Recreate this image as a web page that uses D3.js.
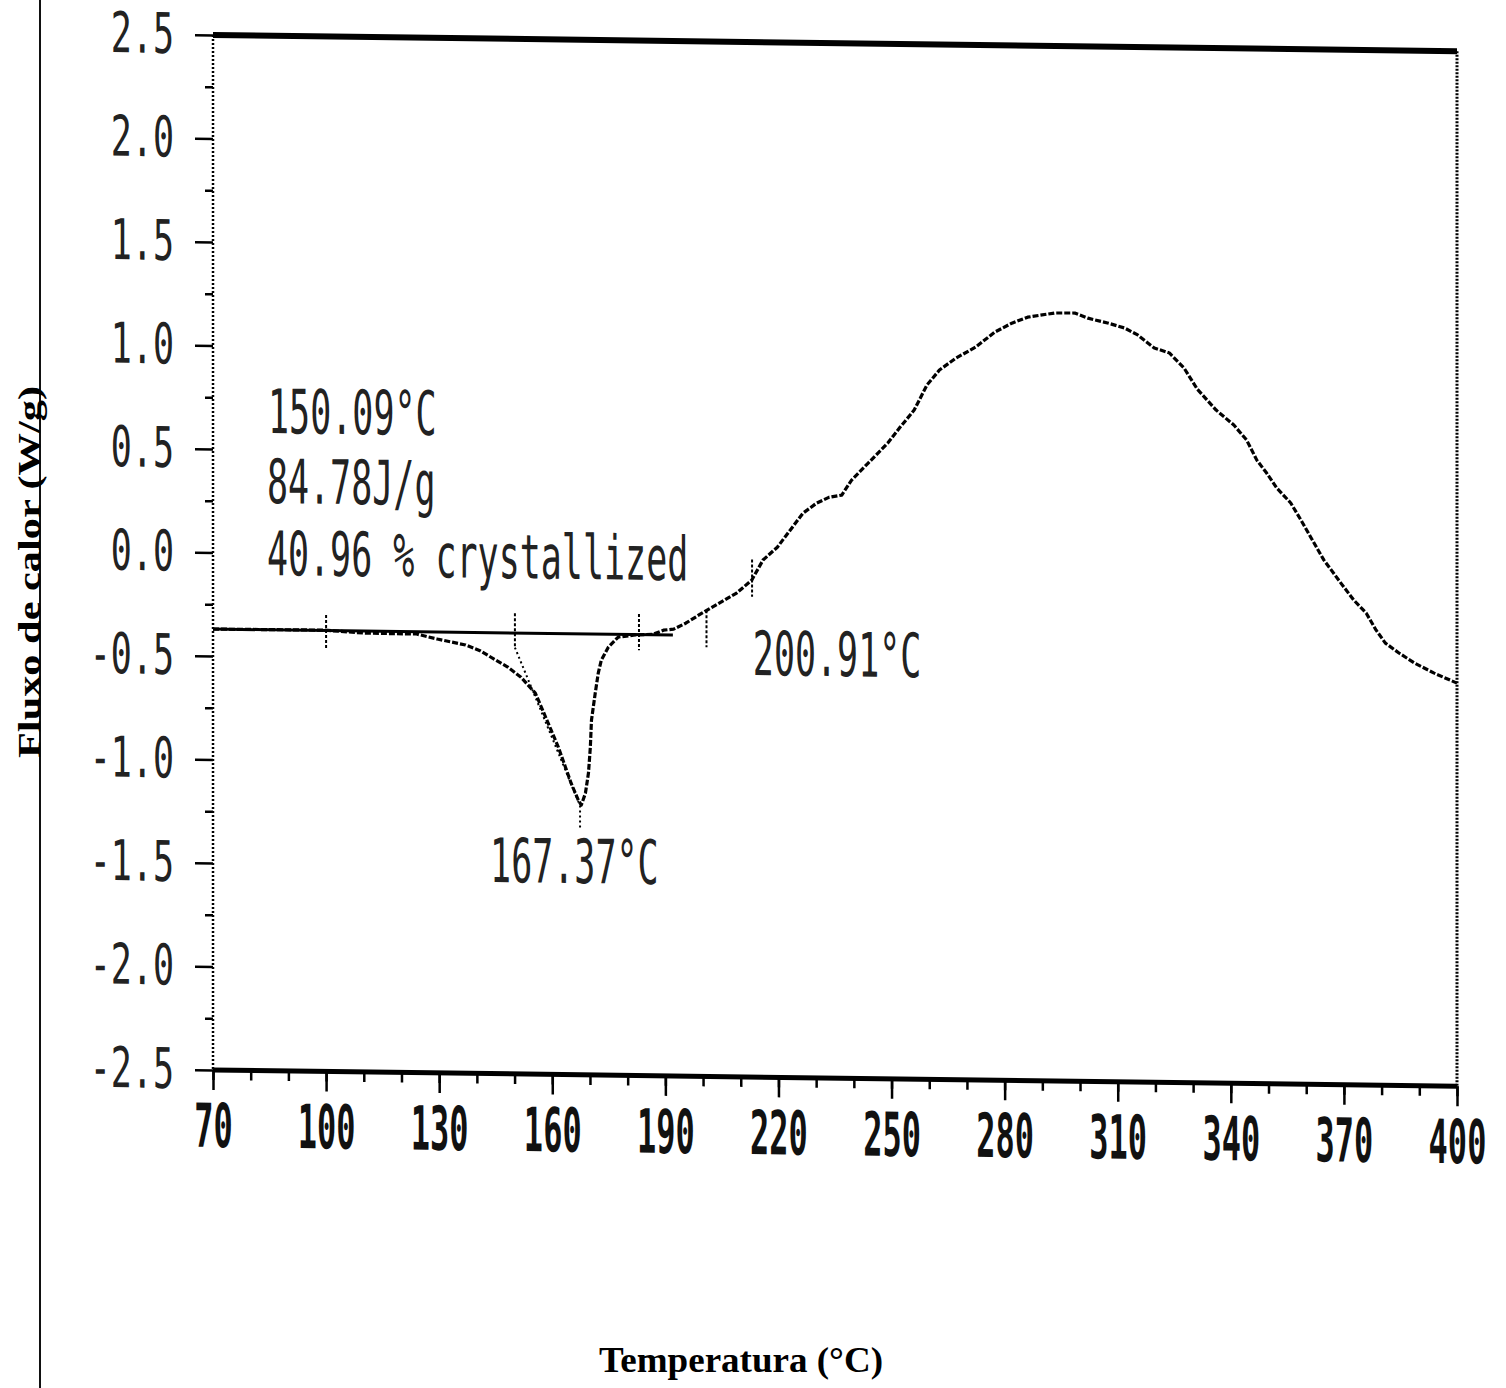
<!DOCTYPE html>
<html>
<head>
<meta charset="utf-8">
<script src="https://cdn.jsdelivr.net/npm/d3@7"></script>
<style>
  body { margin: 0; background: #fff; }
  svg { display: block; }
</style>
</head>
<body>
<svg id="graph" width="1506" height="1388"></svg>
<script>
// DSC curve
var temp = [70, 99.4, 110.4, 124.0, 129.5, 137.0, 141.0, 145.0, 148.2, 151.7, 155.5, 157.1, 159.7, 161.6, 163.5, 165.0,
  166.9, 167.7, 168.8, 169.6, 170.1, 170.4, 171.4, 172.2, 173.0, 174.9, 177.5, 182.0, 186.8, 189.5, 192.2, 195.4,
  199.7, 204.3, 208.9, 212.9, 215.9, 219.7, 223.1, 226.5, 230.1, 233.5, 236.8, 239.4, 243.8, 249.0, 252.3, 256.0,
  259.4, 262.7, 267.1, 272.3, 277.4, 281.9, 286.1, 293.3, 298.6, 302.1, 307.3, 311.8, 315.3, 319.7, 323.7, 327.6,
  331.1, 336.1, 340.8, 344.2, 346.9, 349.5, 352.2, 355.9, 358.6, 361.2, 364.7, 369.2, 372.6, 375.9, 378.5, 381.0,
  384.6, 388.7, 393.8, 400];
var heatFlow = [-0.370, -0.368, -0.380, -0.381, -0.404, -0.431, -0.459, -0.502, -0.535, -0.583, -0.659, -0.726, -0.837, -0.918, -1.015, -1.092,
  -1.173, -1.197, -1.139, -1.042, -0.916, -0.786, -0.655, -0.558, -0.496, -0.432, -0.383, -0.372, -0.367, -0.347, -0.341, -0.312,
  -0.262, -0.213, -0.163, -0.100, -0.002, 0.061, 0.144, 0.227, 0.276, 0.306, 0.317, 0.390, 0.473, 0.571, 0.649, 0.732,
  0.854, 0.927, 0.986, 1.040, 1.114, 1.158, 1.188, 1.210, 1.211, 1.187, 1.165, 1.142, 1.109, 1.047, 1.024, 0.952,
  0.851, 0.751, 0.680, 0.608, 0.512, 0.450, 0.378, 0.307, 0.225, 0.143, 0.033, -0.077, -0.158, -0.220, -0.301, -0.364,
  -0.411, -0.458, -0.505, -0.553];

var xMajor = [70, 100, 130, 160, 190, 220, 250, 280, 310, 340, 370, 400];
var xMinor = d3.range(70, 401, 10);
var yMajor = [-2.5, -2.0, -1.5, -1.0, -0.5, 0.0, 0.5, 1.0, 1.5, 2.0, 2.5];
var yMinor = [-2.25, -1.75, -1.25, -0.75, -0.25, 0.25, 0.75, 1.25, 1.75, 2.25];

// analysis marks: integration baseline, limit ticks [T, top, bottom], onset tangent
var baseLine = [[70, -0.37], [192, -0.37]];
var limitTicks = [[100, -0.295, -0.464], [150.09, -0.275, -0.437], [183, -0.27, -0.445], [200.91, -0.248, -0.427], [213, 0.0, -0.18]];
var tangent = [[150.09, -0.44], [167.37, -1.2], [167.37, -1.307]];

var notes = [
  { text: '150.09°C', t: 84.6, v: 0.581 },
  { text: '84.78J/g', t: 84.3, v: 0.243 },
  { text: '40.96 % crystallized', t: 84.3, v: -0.105 },
  { text: '167.37°C', t: 143.5, v: -1.574 },
  { text: '200.91°C', t: 213.2, v: -0.558 }
];

function Graph(){
  this.width = 1244;
  this.height = 1035;
  this.create();
}

Graph.prototype.create = function(){
  this.svg = d3.select('#graph');
  this.svg.append('rect').attr('width', 1506).attr('height', 1388).attr('fill', '#fff');
  // page edge of the scan
  this.svg.append('line').attr('x1', 40).attr('x2', 40).attr('y1', 0).attr('y2', 1388)
    .attr('stroke', '#111').attr('stroke-width', 2);

  // the scanned sheet is slightly sheared
  this.origin = this.svg.append('g').attr('transform', 'translate(213,35) skewY(0.745)');

  this.xScale = d3.scaleLinear().domain([70, 400]).range([0, this.width]);
  this.yScale = d3.scaleLinear().domain([-2.5, 2.5]).range([this.height, 0]);
  this.lineGen = d3.line().x(d => this.xScale(d[0])).y(d => this.yScale(d[1]));

  this.drawFrame();
  this.drawAxes();
  this.drawCurve();
  this.drawNotes();
  this.drawTitles();
}

Graph.prototype.drawFrame = function(){
  var g = this.origin;
  g.append('line').attr('x1', 0).attr('x2', this.width).attr('y1', 0).attr('y2', 0)
    .attr('stroke', '#000').attr('stroke-width', 6);
  g.append('line').attr('x1', 0).attr('x2', this.width).attr('y1', this.height).attr('y2', this.height)
    .attr('stroke', '#000').attr('stroke-width', 5);
  g.append('line').attr('x1', 0).attr('x2', 0).attr('y1', 0).attr('y2', this.height)
    .attr('stroke', '#000').attr('stroke-width', 2.5).attr('stroke-dasharray', '2,2');
  g.append('line').attr('x1', this.width).attr('x2', this.width).attr('y1', 0).attr('y2', this.height)
    .attr('stroke', '#000').attr('stroke-width', 3).attr('stroke-dasharray', '2,1.5');
}

Graph.prototype.drawAxes = function(){
  var g = this.origin;

  var yMin = g.append('g').call(d3.axisLeft(this.yScale).tickValues(yMinor).tickSize(8).tickFormat(''));
  var yMaj = g.append('g').call(d3.axisLeft(this.yScale).tickValues(yMajor).tickSize(18).tickPadding(21)
    .tickFormat(d => d.toFixed(1)));
  var xMin = g.append('g').attr('transform', 'translate(0,' + this.height + ')')
    .call(d3.axisBottom(this.xScale).tickValues(xMinor).tickSize(10).tickFormat(''));
  var xMaj = g.append('g').attr('transform', 'translate(0,' + this.height + ')')
    .call(d3.axisBottom(this.xScale).tickValues(xMajor).tickSize(20).tickFormat(d3.format('d')));

  [yMin, yMaj, xMin, xMaj].forEach(a => {
    a.select('.domain').remove();
    a.selectAll('line').attr('stroke', '#000').attr('stroke-width', 2.5);
  });

  yMaj.selectAll('text')
    .attr('font-family', 'DejaVu Sans Mono').attr('font-size', 35).attr('fill', '#222')
    .attr('transform', 'scale(1,1.6)');

  xMaj.selectAll('text')
    .attr('font-family', 'DejaVu Sans Mono').attr('font-size', 32).attr('font-weight', 'bold').attr('fill', '#111')
    .attr('y', 40.5).attr('dy', 0)
    .attr('transform', 'scale(1,1.9)');
}

Graph.prototype.drawCurve = function(){
  var g = this.origin;
  var pts = temp.map((t, i) => [t, heatFlow[i]]);

  g.append('path').attr('d', this.lineGen(baseLine))
    .attr('fill', 'none').attr('stroke', '#000').attr('stroke-width', 3);

  g.append('path').attr('d', this.lineGen(tangent))
    .attr('fill', 'none').attr('stroke', '#000').attr('stroke-width', 2).attr('stroke-dasharray', '2,3');

  g.selectAll('.limit').data(limitTicks).enter().append('line')
    .attr('class', 'limit')
    .attr('x1', d => this.xScale(d[0])).attr('x2', d => this.xScale(d[0]))
    .attr('y1', d => this.yScale(d[1])).attr('y2', d => this.yScale(d[2]))
    .attr('stroke', '#000').attr('stroke-width', 2).attr('stroke-dasharray', '3,2');

  g.append('path').attr('d', this.lineGen(pts))
    .attr('fill', 'none').attr('stroke', '#000').attr('stroke-width', 3.2)
    .attr('stroke-dasharray', '6,2').attr('stroke-linejoin', 'round');
}

Graph.prototype.drawNotes = function(){
  this.origin.selectAll('.note').data(notes).enter().append('text')
    .attr('class', 'note')
    .attr('transform', d => 'translate(' + this.xScale(d.t) + ',' + this.yScale(d.v) + ') scale(1,1.75)')
    .attr('font-family', 'DejaVu Sans Mono').attr('font-size', 35).attr('fill', '#222')
    .text(d => d.text);
}

Graph.prototype.drawTitles = function(){
  this.svg.append('text')
    .attr('transform', 'translate(40,572) rotate(-90)')
    .attr('text-anchor', 'middle')
    .attr('font-family', 'Liberation Serif').attr('font-weight', 'bold').attr('font-size', 31)
    .attr('textLength', 372).attr('lengthAdjust', 'spacingAndGlyphs')
    .text('Fluxo de calor (W/g)');

  this.svg.append('text')
    .attr('x', 741).attr('y', 1372)
    .attr('text-anchor', 'middle')
    .attr('font-family', 'Liberation Serif').attr('font-weight', 'bold').attr('font-size', 35)
    .attr('textLength', 284).attr('lengthAdjust', 'spacingAndGlyphs')
    .text('Temperatura (°C)');
}

var graph = new Graph();
</script>
</body>
</html>
